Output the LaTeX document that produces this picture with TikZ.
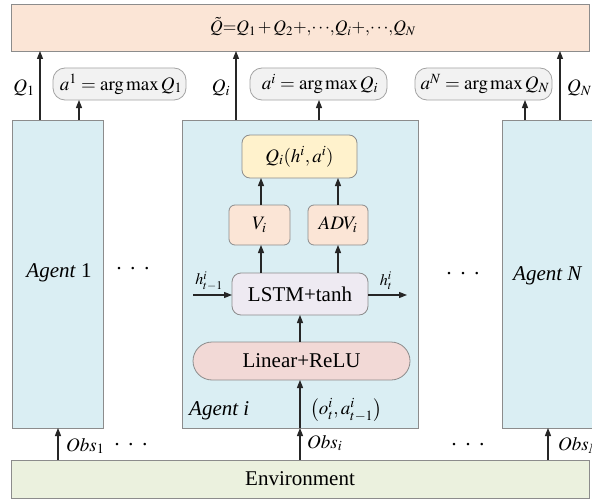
\documentclass[tikz,border=0pt]{standalone}
\usepackage{mathptmx}
\usepackage{fontspec}
\setmainfont{Liberation Serif}
\usetikzlibrary{arrows.meta,calc}
\definecolor{peach}{HTML}{FBE5D6}
\definecolor{agentblue}{HTML}{DAEEF3}
\definecolor{envgreen}{HTML}{EBF1DE}
\definecolor{qyellow}{HTML}{FFF2CC}
\definecolor{lstmcol}{HTML}{EEEAF2}
\definecolor{lincol}{HTML}{F2D9D6}
\definecolor{abox}{HTML}{F2F2F2}
\definecolor{bord}{HTML}{8C8C8C}
\newcommand{\sdots}{·\hspace{7pt}·\hspace{7pt}·}
\tikzset{
  boxbase/.style={draw=bord,line width=0.8pt,inner sep=0pt,outer sep=0pt},
  topbox/.style={boxbase,fill=peach},
  agentbox/.style={boxbase,fill=agentblue},
  envbox/.style={boxbase,fill=envgreen},
  argbox/.style={boxbase,fill=abox,draw=bord!80,rounded corners=12pt},
  qbox/.style={boxbase,fill=qyellow,rounded corners=8pt},
  vbox/.style={boxbase,fill=peach,rounded corners=6pt},
  lstmbox/.style={boxbase,fill=lstmcol,rounded corners=9pt},
  linbox/.style={boxbase,fill=lincol,rounded corners=19pt},
  arr/.style={-{Triangle[length=8pt,width=6pt]},line width=1.1pt,black!85},
  lbl/.style={inner sep=0pt,font=\fontsize{19}{22}\selectfont},
  big/.style={inner sep=0pt,font=\fontsize{21}{24}\selectfont},
}
\begin{document}
\begin{tikzpicture}[x=1pt,y=-1pt]
\useasboundingbox (0,0) rectangle (592,503);
\clip (0,0) rectangle (592,503);
\fill[white] (0,0) rectangle (592,503);
% main boxes
\node[topbox,minimum width=578,minimum height=47] (top) at (300,27.5) {};
\node[lbl,font=\fontsize{17.5}{20}\selectfont] (sum) at (313,27) {$\tilde{Q}{=}Q_1\,{+}\,Q_2{+}{,}{\cdots}{,}Q_i{+}{,}{\cdots}{,}Q_N$};
\node[envbox,minimum width=578,minimum height=38] (env) at (300,479) {};
\node[big] (envt) at (300,479) {Environment};
\node[agentbox,minimum width=91,minimum height=308] (agent1) at (57.5,274) {};
\node[agentbox,minimum width=236,minimum height=308] (agenti) at (300,274) {};
\node[agentbox,minimum width=118,minimum height=308] (agentN) at (561,274) {};
\node[big] (ag1t) at (59,273) {\textit{Agent} 1};
\node[big,anchor=west] (agNt) at (513,276) {\textit{Agent N}};
\node[big,anchor=west] (agit) at (189,411) {\textit{Agent i}};
\node[big] (dots1) at (133,271) {\sdots};
\node[big] (dots2) at (463,276) {\sdots};
\node[big] (dots3) at (131,447) {\sdots};
\node[big] (dots4) at (468,447) {\sdots};
% argmax boxes
\node[argbox,minimum width=133,minimum height=32] (a1) at (119.5,84) {};
\node[lbl] (a1t) at (121,84) {$a^1=\arg\max Q_1$};
\node[argbox,minimum width=137,minimum height=32] (ai) at (318.5,84) {};
\node[lbl] (ait) at (320,84) {$a^i=\arg\max Q_i$};
\node[argbox,minimum width=137,minimum height=32] (aN) at (483.5,84) {};
\node[lbl] (aNt) at (485,84) {$a^N=\arg\max Q_N$};
% Q arrows
\coordinate (x1) at (40,0);
\coordinate (xi) at (236,0);
\coordinate (xN) at (560,0);
\coordinate (xa1) at (79,0);
\coordinate (xai) at (319,0);
\coordinate (xaN) at (525,0);
\draw[arr] (agent1.north -| x1) -- (top.south -| x1);
\draw[arr] (agenti.north -| xi) -- (top.south -| xi);
\draw[arr] (agentN.north -| xN) -- (top.south -| xN);
\draw[arr] (agent1.north -| xa1) -- (a1.south -| xa1);
\draw[arr] (agenti.north -| xai) -- (ai.south -| xai);
\draw[arr] (agentN.north -| xaN) -- (aN.south -| xaN);
\node[lbl] (q1l) at (24,88) {$Q_1$};
\node[lbl] (qil) at (221,88) {$Q_i$};
\node[lbl,anchor=west] (qNl) at (567,88) {$Q_N$};
% inside agent i
\node[qbox,minimum width=115,minimum height=43] (qb) at (299.5,156.5) {};
\node[lbl] (qbt) at (299.5,156.5) {$Q_i(h^i,a^i)$};
\node[vbox,minimum width=61,minimum height=40] (vb) at (259.5,225) {};
\node[lbl] (vbt) at (259.5,225) {$V_i$};
\node[vbox,minimum width=60,minimum height=40] (adv) at (338,225) {};
\node[lbl] (advt) at (338,225) {$ADV_i$};
\node[lstmbox,minimum width=136,minimum height=42] (lstm) at (300,294) {};
\node[big] (lstmt) at (300,294) {LSTM+tanh};
\node[linbox,minimum width=217,minimum height=38] (lin) at (301.5,361) {};
\node[big] (lint) at (301.5,361) {Linear+ReLU};
\coordinate (xv) at (261,0);
\coordinate (xadv) at (338,0);
\coordinate (xc) at (300,0);
\draw[arr] (vb.north -| xv) -- (qb.south -| xv);
\draw[arr] (adv.north -| xadv) -- (qb.south -| xadv);
\draw[arr] (lstm.north -| xv) -- (vb.south -| xv);
\draw[arr] (lstm.north -| xadv) -- (adv.south -| xadv);
\draw[arr] (lin.north -| xc) -- (lstm.south -| xc);
\draw[arr] (agenti.south -| xc) -- (lin.south -| xc);
\coordinate (hin) at (193,295);
\coordinate (hout) at (407,295);
\draw[arr] (hin) -- (hin -| lstm.west);
\draw[arr] (hout -| lstm.east) -- (hout);
\node[lbl,font=\fontsize{16}{18}\selectfont] (hinl) at (209,281) {$h^i_{t-1}$};
\node[lbl,font=\fontsize{16}{18}\selectfont] (houtl) at (386,281) {$h^i_t$};
\node[lbl,anchor=west] (oal) at (310,410) {$\left(o^i_t,a^i_{t-1}\right)$};
% observations
\coordinate (xo1) at (58,0);
\coordinate (xoN) at (548,0);
\draw[arr] (env.north -| xo1) -- (agent1.south -| xo1);
\draw[arr] (env.north -| xc) -- (agenti.south -| xc);
\draw[arr] (env.north -| xoN) -- (agentN.south -| xoN);
\node[lbl,anchor=west] (obs1) at (66,446) {$Obs_1$};
\node[lbl,anchor=west] (obsi) at (307,443) {$Obs_i$};
\node[lbl,anchor=west] (obsN) at (558,446) {$Obs_N$};
\end{tikzpicture}
\end{document}
